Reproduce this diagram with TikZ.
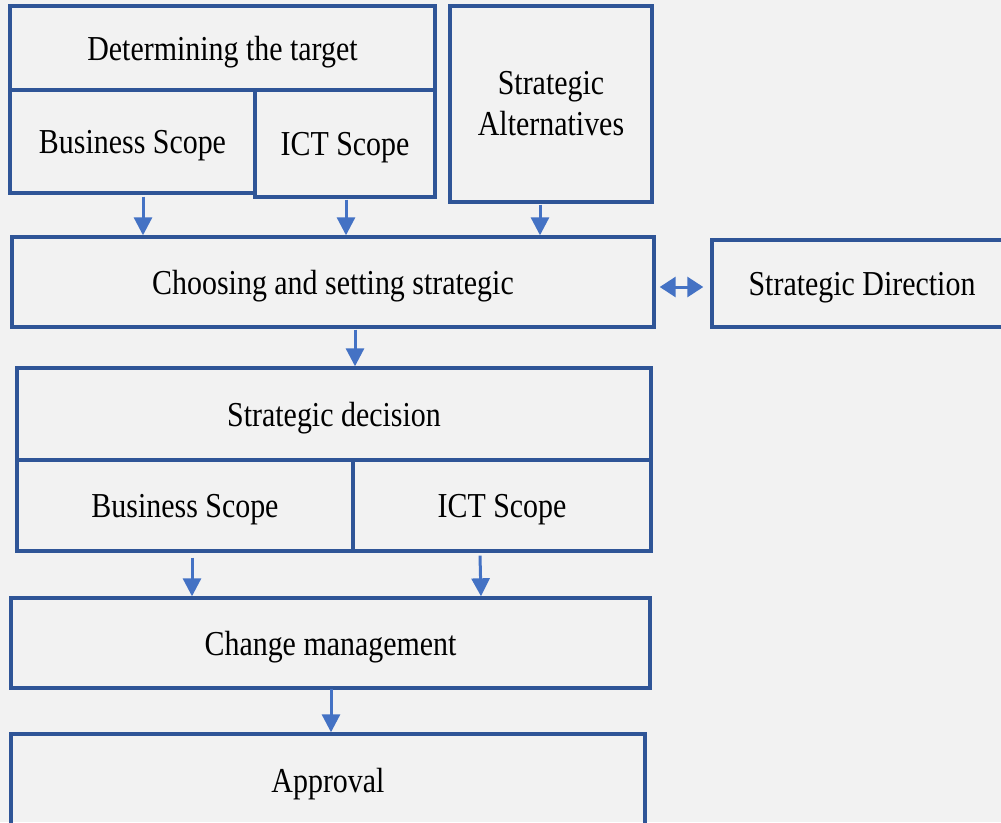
\documentclass[tikz,border=0pt]{standalone}
\usepackage{fontspec}
\setmainfont{Liberation Serif}[FakeStretch=0.855]
\usetikzlibrary{arrows.meta}
\definecolor{bg}{HTML}{F2F2F2}
\definecolor{boxline}{HTML}{2F5597}
\definecolor{arrowc}{HTML}{4472C4}
\begin{document}
\begin{tikzpicture}[x=1pt,y=-1pt,
  box/.style={draw=boxline, line width=3.4pt, rectangle, inner sep=0pt, align=center,
    font=\fontsize{35}{41}\selectfont, text=black},
  one/.style={box, text height=24pt, text depth=0pt},
  arr/.style={draw=arrowc, line width=3pt, -{Triangle[width=18pt,length=18pt]}},
  darr/.style={draw=arrowc, line width=3pt, {Triangle[width=20pt,length=16pt]}-{Triangle[width=20pt,length=16pt]}}]
\fill[bg] (0,0) rectangle (1001,822);
\useasboundingbox (0,0) rectangle (1001,822);
\clip (0,0) rectangle (1001,822);
\node[one, minimum width=425pt, minimum height=84pt] (det) at (222.5,48) {Determining the target};
\node[one, minimum width=245pt, minimum height=103pt] (bs1) at (132.5,141.5) {Business Scope};
\node[one, minimum width=180pt, minimum height=107pt] (ict1) at (345,143.5) {ICT Scope};
\node[box, minimum width=202pt, minimum height=196pt] (alt) at (551,104) {Strategic\\Alternatives};
\node[one, minimum width=642pt, minimum height=90pt] (choose) at (333,282) {Choosing and setting strategic};
\node[one, minimum width=300pt, minimum height=87pt] (dir) at (862,283.5) {Strategic Direction};
\node[one, minimum width=634pt, minimum height=92pt] (dec) at (334,414) {Strategic decision};
\node[one, minimum width=336pt, minimum height=91pt] (bs2) at (185,505.5) {Business Scope};
\node[one, minimum width=298pt, minimum height=91pt] (ict2) at (502,505.5) {ICT Scope};
\node[one, minimum width=639pt, minimum height=90pt] (change) at (330.5,643) {Change management};
\node[one, minimum width=634pt, minimum height=92pt] (appr) at (328,780) {Approval};
\draw[arr] ([xshift=10.5pt,yshift=-2pt]bs1.south) -- ([xshift=10.5pt]bs1.south |- choose.north);
\draw[arr] ([xshift=1pt,yshift=-1pt]ict1.south) -- ([xshift=1pt]ict1.south |- choose.north);
\draw[arr] ([xshift=-11pt,yshift=-1pt]alt.south) -- ([xshift=-11pt]alt.south |- choose.north);
\draw[arr] ([xshift=22pt,yshift=-1pt]choose.south) -- ([xshift=22pt]choose.south |- dec.north);
\draw[arr] ([xshift=7pt,yshift=-5pt]bs2.south) -- ([xshift=7pt]bs2.south |- change.north);
\draw[arr] ([xshift=-22pt,yshift=-3pt]ict2.south) -- ([xshift=-21pt]ict2.south |- change.north);
\draw[arr] ([xshift=0.5pt,yshift=1pt]change.south) -- ([xshift=0.5pt]change.south |- appr.north);
\draw[darr] ([xshift=4pt,yshift=-5pt]choose.east) -- ([xshift=-7pt,yshift=-5pt]choose.east -| dir.west);
\end{tikzpicture}
\end{document}
